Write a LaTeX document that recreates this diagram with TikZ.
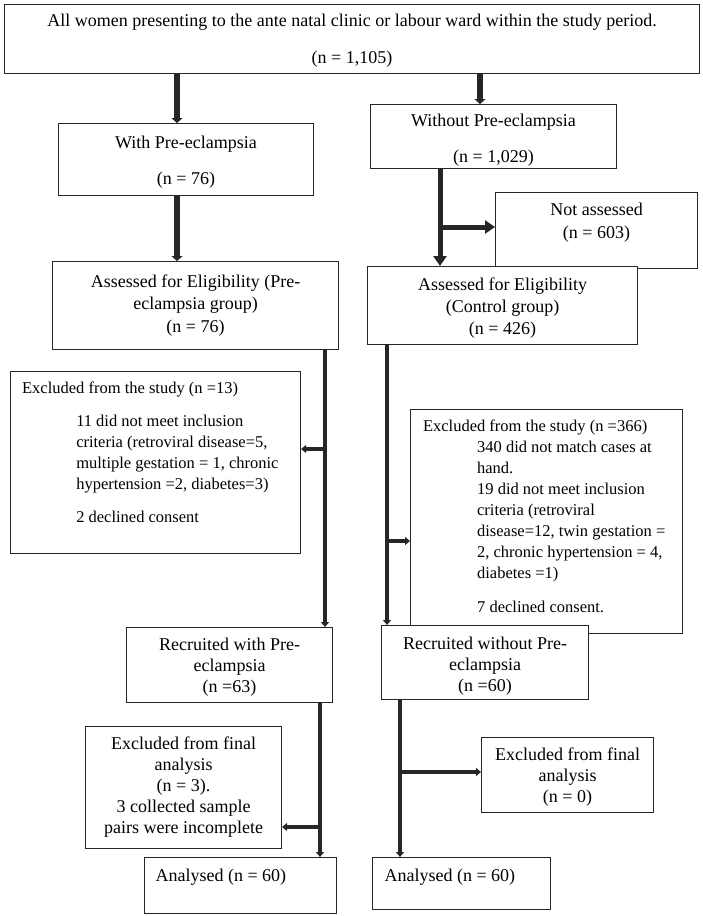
\documentclass[tikz,border=0pt]{standalone}
\usepackage{fontspec}
\setmainfont{Liberation Serif}
\usetikzlibrary{arrows.meta}

% fixed size box, text starts at the top
\newcommand{\boxtext}[4]{\parbox[c][#2][t]{#1}{\vspace*{#3}#4}}

\begin{document}
\begin{tikzpicture}[x=1pt, y=-1pt,
    box/.style={draw=black!85, fill=white, line width=1.1pt, inner sep=0pt, anchor=north west,
      font=\fontsize{18}{21}\selectfont},
    exbox/.style={box, font=\fontsize{16.5}{21}\selectfont},
    bigarrow/.style={draw=black!85, line width=5.5pt, -{Triangle[width=11pt,length=5pt]}},
    wideheadarrow/.style={draw=black!85, line width=5pt, -{Triangle[width=13pt,length=10pt]}},
    arrow/.style={draw=black!85, line width=3.5pt, -{Triangle[width=8pt,length=5pt]}}]

    \useasboundingbox (0,0) rectangle (703,916);

    \node [box] (all) at (4,4) {\boxtext{695pt}{69pt}{6.8pt}{\centering\strut
      All women presenting to the ante natal clinic or labour ward within the study period.\\[16pt]
      (n = 1,105)}};

    \node [box] (with) at (58,123) {\boxtext{255pt}{72pt}{9.8pt}{\centering\strut
      With Pre-eclampsia\\[15pt] (n = 76)}};
    \node [box] (without) at (370,104) {\boxtext{246pt}{64pt}{7.3pt}{\centering\strut
      Without Pre-eclampsia\\[15pt] (n = 1,029)}};
    \node [box] (notass) at (495,192) {\boxtext{202pt}{76pt}{7.8pt}{\centering\strut
      Not assessed\\[2pt] (n = 603)}};

    \node [box] (asspre) at (52,261) {\boxtext{286pt}{88pt}{10.8pt}{\centering\strut
      Assessed for Eligibility (Pre-\\[1.5pt] eclampsia group)\\[1.5pt] (n = 76)}};
    \node [box] (asscon) at (367,266) {\boxtext{270pt}{78pt}{8.8pt}{\centering\strut
      Assessed for Eligibility\\[1.5pt] (Control group)\\[1pt] (n = 426)}};

    \node [exbox] (exc13) at (10,371) {\boxtext{290pt}{182pt}{7.3pt}{\raggedright
      \leftskip=11.6pt\strut Excluded from the study (n =13)\par
      \vspace{12pt}\leftskip=65.7pt
      11 did not meet inclusion\\ criteria (retroviral disease=5,\\
      multiple gestation = 1, chronic\\ hypertension =2, diabetes=3)\par
      \vspace{12pt}2 declined consent}};
    \node [exbox] (exc366) at (410,409) {\boxtext{272pt}{224pt}{7.3pt}{\raggedright
      \leftskip=12.5pt\strut Excluded from the study (n =366)\par
      \leftskip=66.6pt
      340 did not match cases at\\ hand.\\ 19 did not meet inclusion\\ criteria (retroviral\\
      disease=12, twin gestation =\\ 2, chronic hypertension = 4,\\ diabetes =1)\par
      \vspace{13pt}7 declined consent.}};

    \node [box] (recwith) at (126,627) {\boxtext{206pt}{75pt}{7.8pt}{\centering\strut
      Recruited with Pre-\\ eclampsia\\ (n =63)}};
    \node [box] (recwo) at (381,625) {\boxtext{207pt}{74pt}{8.8pt}{\centering\strut
      Recruited without Pre-\\ eclampsia\\ (n =60)}};

    \node [box] (exfinl) at (85,726) {\boxtext{196pt}{122pt}{7.8pt}{\centering\strut
      Excluded from final\\ analysis\\ (n = 3).\\ 3 collected sample\\ pairs were incomplete}};
    \node [box] (exfinr) at (481,737) {\boxtext{172pt}{75pt}{7.8pt}{\centering\strut
      Excluded from final\\ analysis\\ (n = 0)}};

    \node [box] (anl) at (144,857) {\boxtext{192pt}{56pt}{8.8pt}{\leftskip=11pt\strut
      Analysed (n = 60)}};
    \node [box] (anr) at (372,857) {\boxtext{178pt}{52pt}{8.8pt}{\leftskip=12pt\strut
      Analysed (n = 60)}};

    % stems and branch points
    \coordinate (s1) at (177,100);
    \coordinate (s2) at (480,90);
    \coordinate (s3) at (440,227);
    \coordinate (s4) at (325,449);
    \coordinate (s5) at (387,541);
    \coordinate (s6) at (320,827);
    \coordinate (s7) at (400,772);

    \draw [bigarrow] (all.south -| s1) -- (with.north -| s1);
    \draw [bigarrow] (all.south -| s2) -- (without.north -| s2);
    \draw [bigarrow] (with.south -| s1) -- (asspre.north -| s1);
    \draw [wideheadarrow] (without.south -| s3) -- (asscon.north -| s3);
    \draw [wideheadarrow] (s3) -- (s3 -| notass.west);

    \draw [arrow] (asspre.south -| s4) -- (recwith.north -| s4);
    \draw [arrow] (s4) -- (s4 -| exc13.east);
    \draw [arrow] (asscon.south -| s5) -- (recwo.north -| s5);
    \draw [arrow] (s5) -- (s5 -| exc366.west);

    \draw [arrow] (recwith.south -| s6) -- (anl.north -| s6);
    \draw [arrow] (s6) -- (s6 -| exfinl.east);
    \draw [arrow] (recwo.south -| s7) -- (anr.north -| s7);
    \draw [arrow] (s7) -- (s7 -| exfinr.west);
\end{tikzpicture}
\end{document}
